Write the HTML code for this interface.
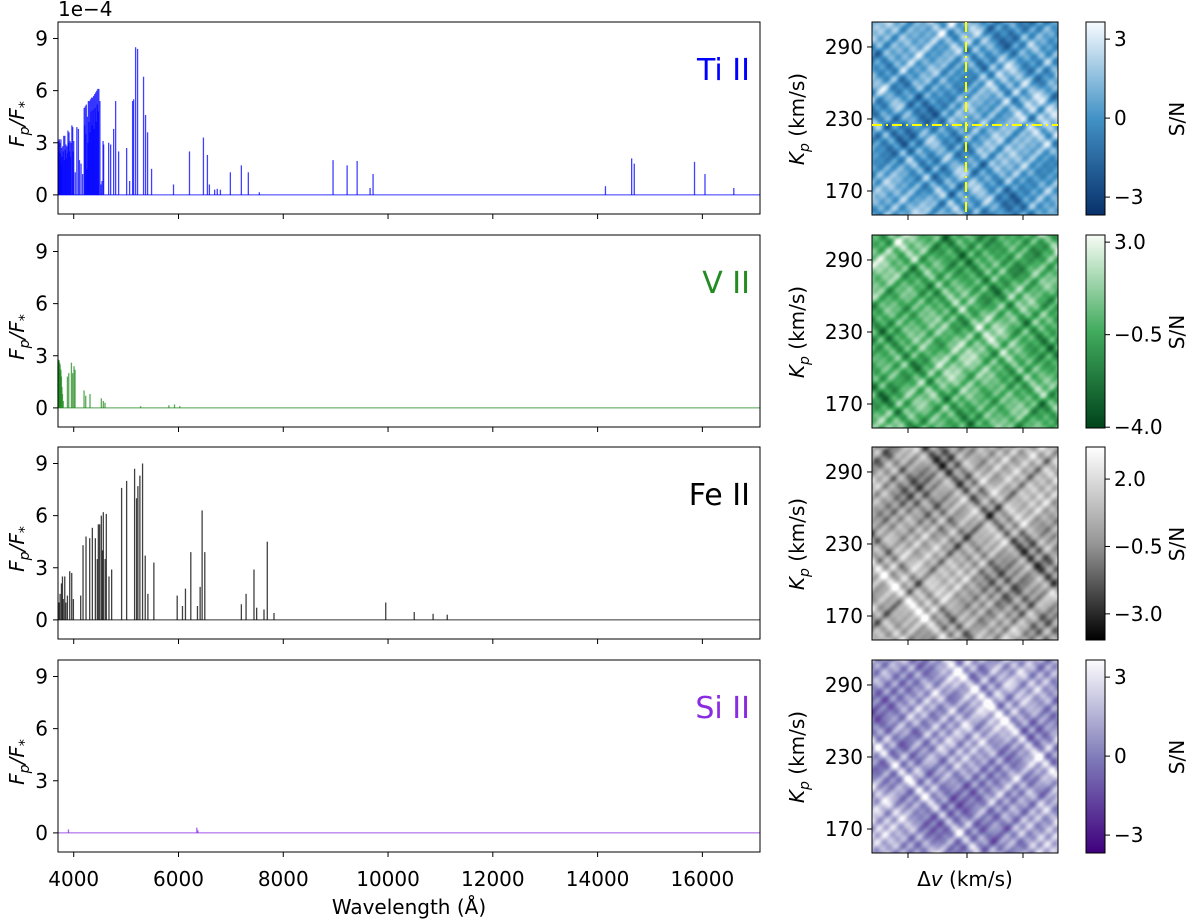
<!DOCTYPE html>
<html><head><meta charset="utf-8">
<style>
body{margin:0;background:#fff;}
#wrap{position:relative;width:1200px;height:922px;overflow:hidden;font-family:"DejaVu Sans","Liberation Sans",sans-serif;}
canvas{position:absolute;z-index:1;}
svg{position:absolute;left:0;top:0;z-index:2;}
</style></head>
<body>
<div id="wrap">
<svg id="svg" width="1200" height="922"></svg>
</div>
<script>
// ---- data ----
const xTicks=[4000,6000,8000,10000,12000,14000,16000];
const yTicks=[0,3,6,9];
const kpTicks=[290,230,170];
const species=["Ti II","V II","Fe II","Si II"];
const colors=["#0000ff","#228b22","#000000","#8a2be2"];
const tiWl=[3714,3720,3725,3733,3740,3748,3755,3762,3770,3780,3790,3800,3810,3820,3830,3840,3850,3860,3870,3880,3890,3900,3910,3920,3930,3940,3950,3965,3980,3990,4000,4030,4060,4090,4110,4140,4170,4200,4210,4220,4230,4240,4250,4260,4270,4280,4290,4300,4310,4320,4330,4340,4350,4360,4370,4380,4390,4400,4410,4420,4430,4440,4450,4460,4470,4480,4500,4520,4540,4560,4571,4667,4705,4762,4800,4857,5010,5067,5124,5143,5181,5219,5333,5371,5410,5486,5905,6210,6476,6552,6590,6690,6740,6800,6990,7200,7333,7543,8950,9219,9410,9657,9714,14150,14650,14700,15850,16050,16600];
const tiH=[3.1,2.5,3.2,2.0,3.0,2.4,3.2,1.8,2.7,2.2,2.8,2.5,3.4,2.0,3.4,2.6,2.9,2.1,2.8,2.4,3.7,3.0,3.6,2.5,3.1,2.2,3.0,4.0,3.9,2.5,3.1,1.3,3.9,3.8,2.0,1.8,1.2,5.0,4.0,5.1,3.5,5.2,1.5,4.5,3.0,5.4,4.2,5.4,3.6,5.5,4.8,5.6,4.0,5.6,4.9,5.7,3.8,5.8,5.0,5.9,4.2,6.0,5.2,6.1,4.8,6.1,5.4,0.6,0.8,3.1,2.9,3.0,2.9,3.8,5.4,2.5,2.7,0.8,5.4,5.5,8.5,8.4,6.8,4.6,3.6,1.5,0.6,2.5,3.3,2.3,0.6,0.3,0.35,0.3,1.3,1.7,1.3,0.15,2.0,1.7,1.95,0.4,1.2,0.5,2.1,1.8,1.9,1.2,0.4];
const vWl=[3700,3705,3710,3715,3720,3725,3730,3735,3740,3748,3755,3765,3775,3785,3800,3880,3905,3956,3981,4006,4025,4197,4229,4311,4527,4565,4597,5276,5816,5924,6025];
const vH=[2.8,2.6,2.7,2.5,2.75,2.4,2.6,2.3,2.5,2.0,2.2,1.8,1.2,0.8,0.4,1.8,2.0,2.6,2.0,2.4,2.2,1.0,0.7,0.8,0.55,0.4,0.3,0.1,0.15,0.2,0.1];
const feWl=[3720,3740,3766,3785,3800,3829,3850,3880,3924,3962,3994,4133,4178,4235,4305,4356,4413,4450,4470,4495,4527,4550,4565,4600,4622,4673,4724,4914,5010,5162,5200,5225,5263,5314,5365,5416,5530,5975,6076,6133,6235,6362,6413,6451,6502,7200,7290,7441,7492,7632,7695,7823,9956,10500,10860,11130];
const feH=[1.0,1.5,2.1,2.5,1.2,2.5,1.0,1.4,2.8,2.7,1.2,1.4,4.3,4.8,4.7,5.3,4.7,3.5,5.5,5.5,6.0,4.0,6.2,3.5,6.1,2.5,2.9,7.6,8.0,8.7,7.0,7.7,8.3,9.0,3.7,1.5,3.3,1.4,0.8,1.8,3.9,0.8,1.9,6.3,3.9,0.9,1.5,2.9,0.7,0.6,4.5,0.4,1.0,0.45,0.35,0.3];
const siWl=[3900,6350,6370];
const siH=[0.2,0.3,0.15];
const cbTop=[3.65,3.27,3.19,3.65], cbBot=[-3.68,-4.03,-3.97,-3.68];
const cbTicks=[[3,0,-3],[3.0,-0.5,-4.0],[2.0,-0.5,-3.0],[3,0,-3]];
const cbLabels=[["3","0","−3"],["3.0","−0.5","−4.0"],["2.0","−0.5","−3.0"],["3","0","−3"]];
// heatmap texture wave params (diagonal streak components)
const wavesA=[0.11,0.23,0.37,0.51,0.19,0.07];
const wavesB=[0.13,0.29,0.41,0.17,0.33,0.09];
const phases=[0.3,1.7,2.9,4.1,5.3,0.9,2.2,3.6];
const allWl=[tiWl,vWl,feWl,siWl], allH=[tiH,vH,feH,siH];
// ---- layout ----
const X0=58,X1=760,XMIN=3700,XMAX=17100;
const tops=[22,235,447,660],PH=192,YMIN=-1.1,YMAX=9.95;
const HX0=872,HX1=1058,CX0=1086,CX1=1105;
const KTOP=310.8,KBOT=150;
const svg=document.getElementById('svg');
const NS='http://www.w3.org/2000/svg';
function el(tag,attrs,parent){const e=document.createElementNS(NS,tag);for(const k in attrs)e.setAttribute(k,attrs[k]);(parent||svg).appendChild(e);return e;}
const xs=v=>X0+(v-XMIN)/(XMAX-XMIN)*(X1-X0);
const ys=(v,t)=>t+(YMAX-v)/(YMAX-YMIN)*PH;
const ks=(v,t)=>t+(KTOP-v)/(KTOP-KBOT)*193;
const cmaps=[[[8,48,107],[66,146,198],[247,251,255]],[[0,68,27],[65,171,93],[247,252,245]],[[0,0,0],[150,150,150],[255,255,255]],[[63,0,125],[128,125,186],[252,251,253]]];
function cm(i,t){const c=cmaps[i];t=Math.max(0,Math.min(1,t));let a,b,u;if(t<0.5){a=c[0];b=c[1];u=t*2;}else{a=c[1];b=c[2];u=(t-0.5)*2;}return [0,1,2].map(k=>Math.round(a[k]+(b[k]-a[k])*u));}
const bias=[0.58,0.55,0.58,0.64];
for(let p=0;p<4;p++){
  const t=tops[p];
  const g=el('g',{});
  const bl=el('line',{x1:X0,x2:X1,y1:ys(0,t),y2:ys(0,t),stroke:colors[p],'stroke-width':1,opacity:0.8},g);
  
  const wl=allWl[p],h=allH[p];
  for(let i=0;i<wl.length;i++){
    const ln=el('line',{x1:xs(wl[i]),x2:xs(wl[i]),y1:ys(0,t),y2:ys(h[i],t),stroke:colors[p],'stroke-width':1.3,opacity:0.75},g);
    
  }
  const fr=el('rect',{x:X0,y:t,width:X1-X0,height:PH,fill:'none',stroke:'#000','stroke-width':1},g);
  
  yTicks.forEach(v=>{const y=ys(v,t);el('line',{x1:X0-5,x2:X0,y1:y,y2:y,stroke:'#000'},g);
    const tx=el('text',{x:X0-10,y:y+7,'text-anchor':'end','font-size':20},g);tx.textContent=v;
    });
  xTicks.forEach(v=>{el('line',{x1:xs(v),x2:xs(v),y1:t+PH,y2:t+PH+5,stroke:'#000'},g);});
  const yl=el('text',{x:0,y:0,transform:`translate(24,${t+PH/2+6}) rotate(-90)`,'text-anchor':'middle','font-size':20,'font-style':'italic'},g);
  yl.innerHTML='F<tspan font-size="14" dy="5">p</tspan><tspan dy="-5">/F</tspan><tspan font-size="14" dy="5">*</tspan>';
  
  const sp=el('text',{x:750,y:t+58,'text-anchor':'end','font-size':30,fill:colors[p]},g);sp.textContent=species[p];
  
  const cv=document.createElement('canvas');cv.width=HX1-HX0;cv.height=193;cv.style.left=HX0+'px';cv.style.top=t+'px';
  
  document.getElementById('wrap').appendChild(cv);
  const ctx=cv.getContext('2d');const img=ctx.createImageData(cv.width,cv.height);
  for(let yy=0;yy<cv.height;yy++)for(let xx=0;xx<cv.width;xx++){
    const u=xx+yy*1.05,v=xx-yy*0.95;let s=0;
    for(let k=0;k<6;k++){s+=Math.sin(u*wavesA[k]+phases[(k+p)%8]*(p+1))*0.5+Math.sin(v*wavesB[k]+phases[(k+3+p)%8]*(p+2))*0.5;}
    s+=0.6*Math.sin(u*0.031+p)+0.6*Math.sin(v*0.027+p*2);
    const tt=bias[p]+s/10;const c=cm(p,tt);const o=(yy*cv.width+xx)*4;
    img.data[o]=c[0];img.data[o+1]=c[1];img.data[o+2]=c[2];img.data[o+3]=255;}
  ctx.putImageData(img,0,0);
  const hf=el('rect',{x:HX0,y:t,width:HX1-HX0,height:193,fill:'none',stroke:'#000'},g);
  
  kpTicks.forEach(v=>{const y=ks(v,t);el('line',{x1:HX0-5,x2:HX0,y1:y,y2:y,stroke:'#000'},g);
    const tx=el('text',{x:HX0-9,y:y+7,'text-anchor':'end','font-size':20},g);tx.textContent=v;
    });
  [908,967,1023].forEach(x=>el('line',{x1:x,x2:x,y1:t+193,y2:t+198,stroke:'#000'},g));
  const kl=el('text',{x:0,y:0,transform:`translate(804,${t+97}) rotate(-90)`,'text-anchor':'middle','font-size':20},g);
  kl.innerHTML='<tspan font-style="italic">K</tspan><tspan font-style="italic" font-size="14" dy="5">p</tspan><tspan dy="-5"> (km/s)</tspan>';
  
  const gid='cb'+p;const defs=el('defs',{},g);const lg=el('linearGradient',{id:gid,x1:0,y1:1,x2:0,y2:0},defs);
  for(let s=0;s<=10;s++){const c=cm(p,s/10);el('stop',{offset:s/10,'stop-color':`rgb(${c})`},lg);}
  const cb=el('rect',{x:CX0,y:t,width:CX1-CX0,height:193,fill:`url(#${gid})`,stroke:'#000'},g);
  
  cbTicks[p].forEach((v,i)=>{const y=t+(cbTop[p]-v)/(cbTop[p]-cbBot[p])*193;
    el('line',{x1:CX1,x2:CX1+5,y1:y,y2:y,stroke:'#000'},g);
    const tx=el('text',{x:CX1+9,y:y+7,'font-size':20},g);tx.textContent=cbLabels[p][i];
    });
  const sl=el('text',{x:0,y:0,transform:`translate(1184,${t+97}) rotate(-90)`,'text-anchor':'middle','font-size':20},g);
  sl.textContent='S/N';
}
const cy=ks(225,tops[0]);
const c1=el('line',{x1:HX0,x2:HX1,y1:cy,y2:cy,stroke:'#ffff00','stroke-width':2,'stroke-dasharray':'10,4,2,4'});

const c2=el('line',{x1:966,x2:966,y1:tops[0],y2:tops[0]+193,stroke:'#ffff00','stroke-width':2,'stroke-dasharray':'10,4,2,4'});

xTicks.forEach(v=>{const tx=el('text',{x:xs(v),y:886,'text-anchor':'middle','font-size':20});tx.textContent=v;
  });
const xl=el('text',{x:409,y:914,'text-anchor':'middle','font-size':20});xl.textContent='Wavelength (Å)';

const dl=el('text',{x:965,y:886,'text-anchor':'middle','font-size':20});dl.innerHTML='Δ<tspan font-style="italic">v</tspan> (km/s)';

const off=el('text',{x:58,y:16,'font-size':20});off.textContent='1e−4';

</script>
</body></html>
